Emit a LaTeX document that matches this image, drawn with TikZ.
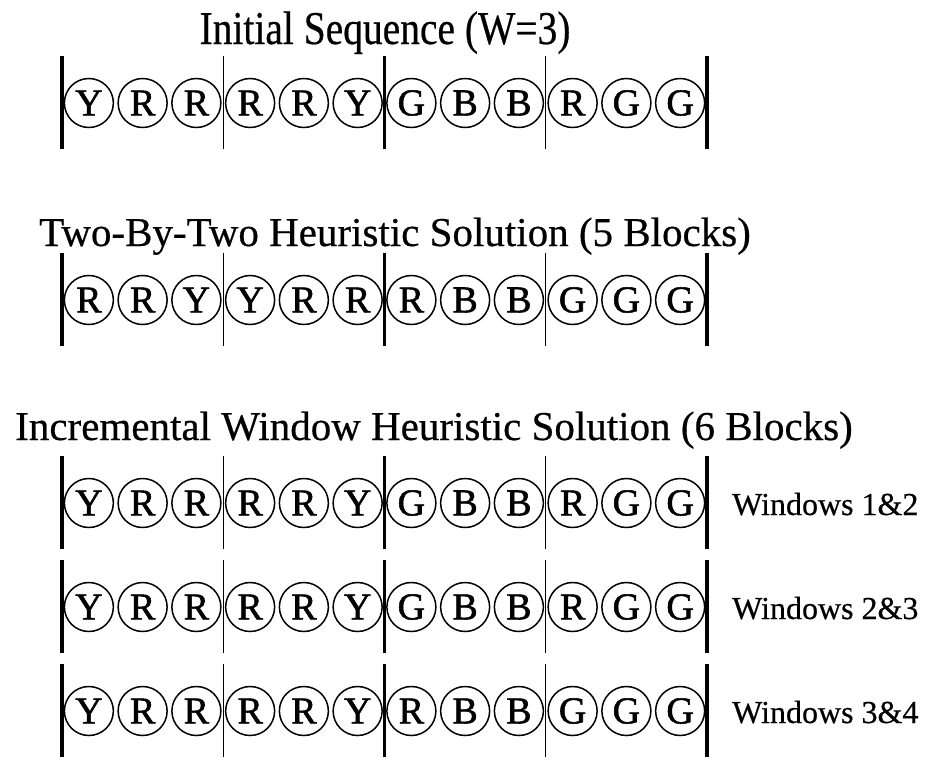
\documentclass[tikz,border=0pt]{standalone}
\usepackage{fontspec}
\setmainfont{Liberation Serif}
% slightly heavier faces for the ball letters and the headings
\newfontfamily\ballfont[FakeBold=1.4]{Liberation Serif}
\newfontfamily\headfont[FakeBold=0.5]{Liberation Serif}
% one row of twelve labelled balls split into four windows of three
% #1 = row name, #2 = y of the ball centres, #3 = the twelve letters
\newcommand\seqrow[3]{%
  \foreach \L [count=\i from 0] in {#3} {
    \node[ball] (#1-\i) at ({88.875+53.75*\i},#2) {\L};
  }
  \draw[thickbar] (62,#2-47) -- (62,#2+46);
  \draw[thinbar]  (223.25,#2-47) -- (223.25,#2+46);
  \draw[thickbar] (384.5,#2-47) -- (384.5,#2+46);
  \draw[thinbar]  (545.75,#2-47) -- (545.75,#2+46);
  \draw[thickbar] (707,#2-47) -- (707,#2+46);
}
\begin{document}
\begin{tikzpicture}[x=1pt,y=-1pt,
  ball/.style={circle,draw,line width=1.5pt,minimum size=49pt,inner sep=0pt,
    font=\ballfont\fontsize{38}{38}\selectfont},
  thinbar/.style={line width=1.3pt},
  thickbar/.style={line width=3.3pt},
  title/.style={font=\headfont\fontsize{41}{41}\selectfont,anchor=base,inner sep=0pt},
  winlabel/.style={font=\headfont\fontsize{32}{32}\selectfont,anchor=base west,inner sep=0pt}]
\useasboundingbox (0,0) rectangle (926,779);

% initial sequence
\node[title,font=\headfont\fontsize{47}{47}\selectfont,xscale=0.84] (t1) at (385,44) {Initial Sequence (W=3)};
\seqrow{init}{103}{Y,R,R,R,R,Y,G,B,B,R,G,G}

% two-by-two heuristic
\node[title] (t2) at (395,246) {Two-By-Two Heuristic Solution (5 Blocks)};
\seqrow{tbt}{300}{R,R,Y,Y,R,R,R,B,B,G,G,G}

% incremental window heuristic
\node[title] (t3) at (434,440) {Incremental Window Heuristic Solution (6 Blocks)};
\seqrow{iwa}{503}{Y,R,R,R,R,Y,G,B,B,R,G,G}
\node[winlabel] (w1) at (732,515) {Windows 1\&2};
\seqrow{iwb}{607}{Y,R,R,R,R,Y,G,B,B,R,G,G}
\node[winlabel] (w2) at (732,619) {Windows 2\&3};
\seqrow{iwc}{711}{Y,R,R,R,R,Y,R,B,B,G,G,G}
\node[winlabel] (w3) at (732,723) {Windows 3\&4};
\end{tikzpicture}
\end{document}
